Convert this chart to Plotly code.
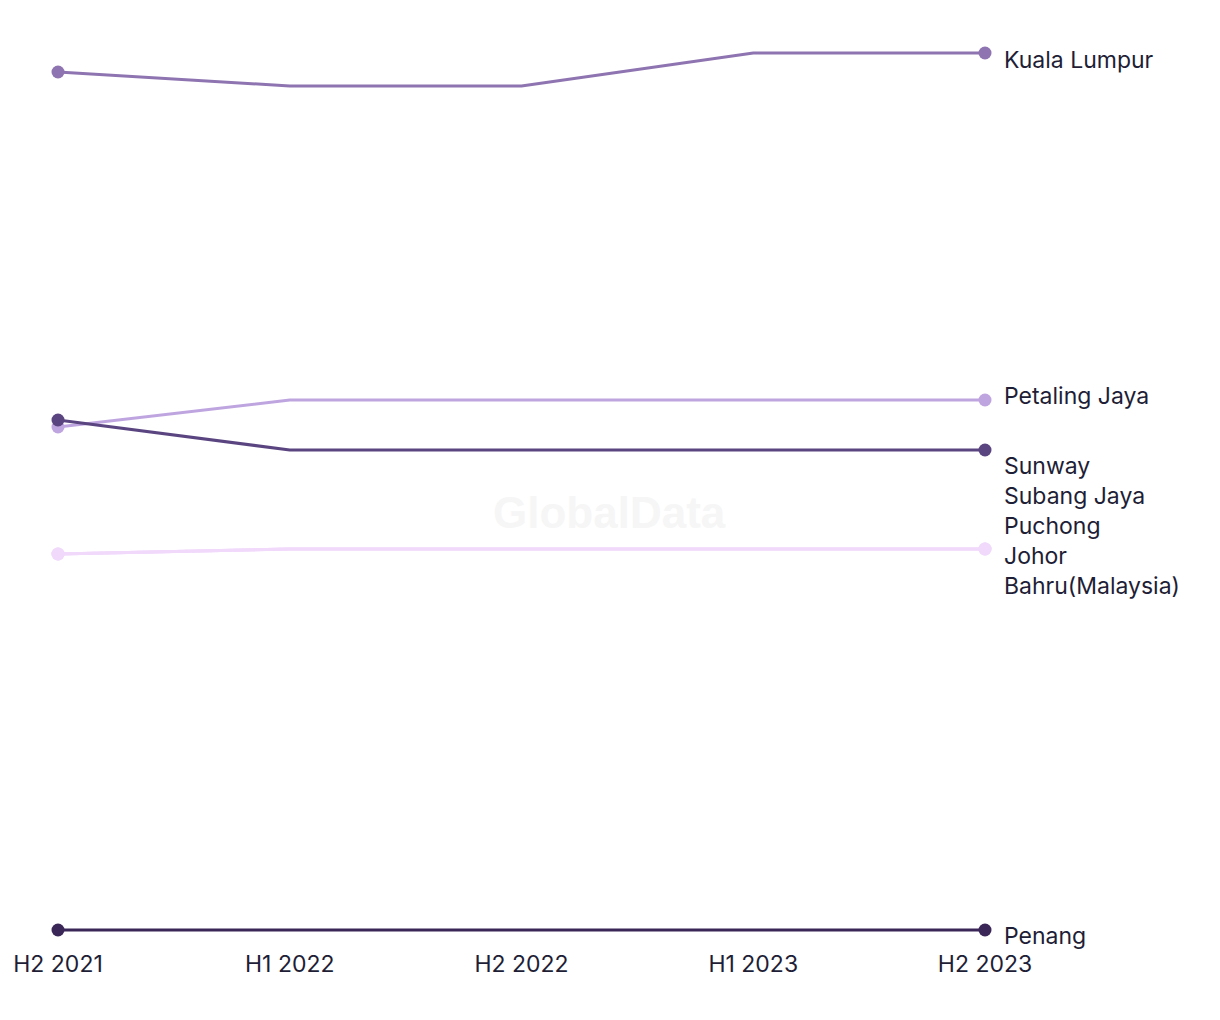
import plotly.graph_objects as go

periods = ["H2 2021", "H1 2022", "H2 2022", "H1 2023", "H2 2023"]

kuala_lumpur = [9.58, 9.44, 9.44, 9.77, 9.77]
petaling_jaya = [6.03, 6.30, 6.30, 6.30, 6.30]
sunway = [6.10, 5.80, 5.80, 5.80, 5.80]
subang_jaya = [4.76, 4.81, 4.81, 4.81, 4.81]
puchong = [4.76, 4.81, 4.81, 4.81, 4.81]
johor_bahru = [4.76, 4.81, 4.81, 4.81, 4.81]
penang = [1.00, 1.00, 1.00, 1.00, 1.00]

series = [
    ("Subang Jaya", subang_jaya, "#f1d9fb", 53, "Subang Jaya"),
    ("Puchong", puchong, "#f1d9fb", 23, "Puchong"),
    ("Penang", penang, "#3a2758", -6, "Penang"),
    ("Johor Bahru(Malaysia)", johor_bahru, "#f1d9fb", -22, "Johor<br>Bahru(Malaysia)"),
    ("Petaling Jaya", petaling_jaya, "#bfa5e0", 4, "Petaling Jaya"),
    ("Kuala Lumpur", kuala_lumpur, "#8e74b0", -7, "Kuala Lumpur"),
    ("Sunway", sunway, "#5a4580", -16, "Sunway"),
]

TEXT = "#1e1e36"
FONT = "Inter"
xs = list(range(len(periods)))

fig = go.Figure()
for name, vals, color, shift, label in series:
    fig.add_trace(go.Scatter(
        x=xs, y=vals, name=name, mode="lines",
        line=dict(color=color, width=3),
        cliponaxis=False, hoverinfo="skip",
    ))
    fig.add_trace(go.Scatter(
        x=[xs[0], xs[-1]], y=[vals[0], vals[-1]], name=name, mode="markers",
        marker=dict(color=color, size=13, opacity=1, line=dict(width=0)),
        cliponaxis=False, hoverinfo="skip",
    ))
    fig.add_annotation(
        x=xs[-1], y=vals[-1], text=label, showarrow=False,
        xanchor="left", yanchor="middle", xshift=17, yshift=shift,
        align="left", font=dict(size=23, color=TEXT, family=FONT),
    )

fig.add_annotation(
    x=0.595, y=0.5, xref="paper", yref="paper", text="<b>GlobalData</b>",
    showarrow=False, font=dict(size=44, color="#f6f6f6", family="Liberation Sans"),
    yshift=-22,
)

fig.update_layout(
    width=1220, height=1020,
    margin=dict(l=58, r=235, t=40, b=80),
    paper_bgcolor="white", plot_bgcolor="white",
    showlegend=False,
    font=dict(family=FONT, size=23, color=TEXT),
    xaxis=dict(
        tickmode="array", tickvals=xs, ticktext=periods,
        range=[0, len(periods) - 1], showgrid=False, zeroline=False,
        showline=False, ticks="", ticklabelstandoff=8,
        tickfont=dict(size=23, color=TEXT, family=FONT),
    ),
    yaxis=dict(range=[0.9, 9.9], visible=False, showgrid=False, zeroline=False),
)

fig.write_html("out.html")
